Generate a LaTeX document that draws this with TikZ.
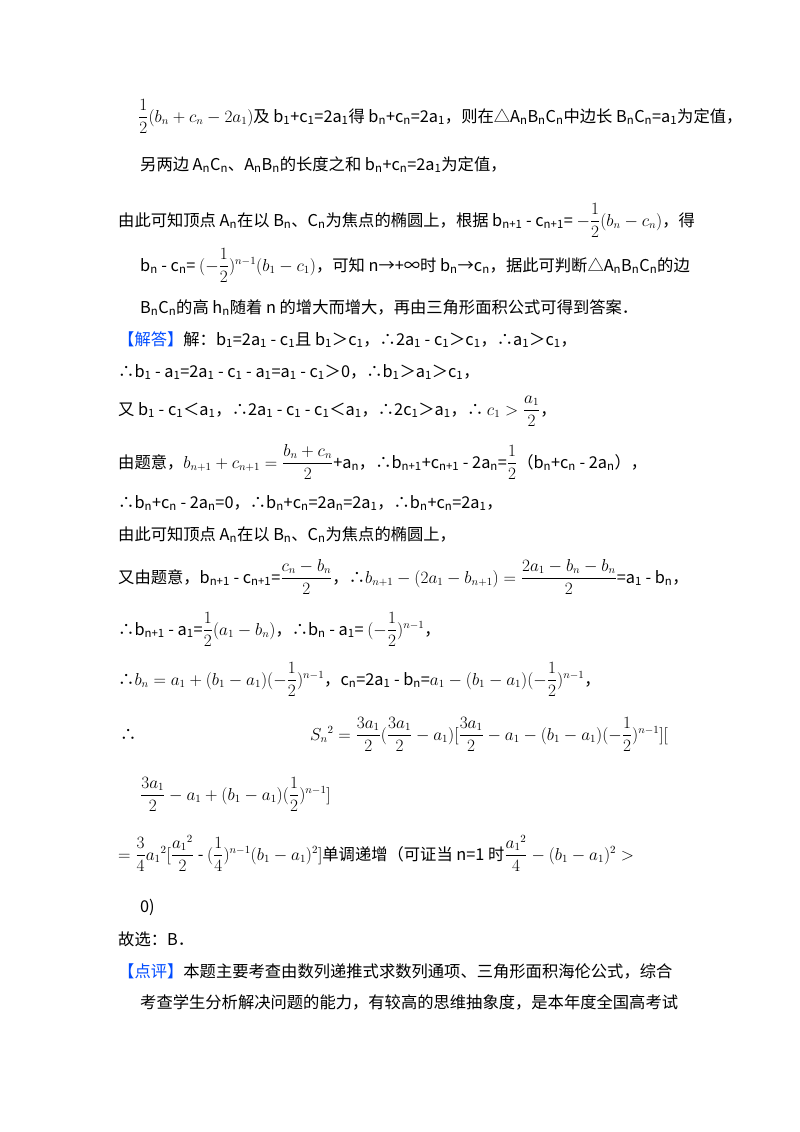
\documentclass[tikz,border=0pt]{standalone}
\usepackage{amsmath}
\usepackage{fontspec}
\setmainfont{Noto Sans CJK SC}
\newcommand{\sbs}[1]{\textsubscript{#1}}
\begin{document}
\begin{tikzpicture}[x=1pt,y=-1pt,
  ln/.style={anchor=base west,inner sep=0pt,font=\fontsize{16.3}{19}\selectfont}]
\useasboundingbox[fill=white] (0,0) rectangle (800,1132);
\node[ln] (l1) at (138,122) {$\dfrac{1}{2}(b_n+c_n-2a_1)$及 b\sbs{1}+c\sbs{1}=2a\sbs{1}得 b\sbs{n}+c\sbs{n}=2a\sbs{1}，则在△A\sbs{n}B\sbs{n}C\sbs{n}中边长 B\sbs{n}C\sbs{n}=a\sbs{1}为定值，};
\node[ln] (l2) at (140,170) {另两边 A\sbs{n}C\sbs{n}、A\sbs{n}B\sbs{n}的长度之和 b\sbs{n}+c\sbs{n}=2a\sbs{1}为定值，};
\node[ln] (l3) at (118,226) {由此可知顶点 A\sbs{n}在以 B\sbs{n}、C\sbs{n}为焦点的椭圆上，根据 b\sbs{n+1} - c\sbs{n+1}= $-\dfrac{1}{2}(b_n-c_n)$，得};
\node[ln] (l4) at (140,271) {b\sbs{n} - c\sbs{n}= $(-\dfrac{1}{2})^{n-1}(b_1-c_1)$，可知 n→+∞时 b\sbs{n}→c\sbs{n}，据此可判断△A\sbs{n}B\sbs{n}C\sbs{n}的边};
\node[ln] (l5) at (140,313) {B\sbs{n}C\sbs{n}的高 h\sbs{n}随着 n 的增大而增大，再由三角形面积公式可得到答案．};
\node[ln] (l6) at (118,345) {\textcolor{blue!70!cyan}{【解答】}解：b\sbs{1}=2a\sbs{1} - c\sbs{1}且 b\sbs{1}＞c\sbs{1}，∴2a\sbs{1} - c\sbs{1}＞c\sbs{1}，∴a\sbs{1}＞c\sbs{1}，};
\node[ln] (l7) at (118,377) {∴b\sbs{1} - a\sbs{1}=2a\sbs{1} - c\sbs{1} - a\sbs{1}=a\sbs{1} - c\sbs{1}＞0，∴b\sbs{1}＞a\sbs{1}＞c\sbs{1}，};
\node[ln] (l8) at (118,415) {又 b\sbs{1} - c\sbs{1}＜a\sbs{1}，∴2a\sbs{1} - c\sbs{1} - c\sbs{1}＜a\sbs{1}，∴2c\sbs{1}＞a\sbs{1}，∴ $c_1>\dfrac{a_1}{2}$，};
\node[ln] (l9) at (118,468) {由题意，$b_{n+1}+c_{n+1}=\dfrac{b_n+c_n}{2}$+a\sbs{n}，∴b\sbs{n+1}+c\sbs{n+1} - 2a\sbs{n}=$\dfrac{1}{2}$（b\sbs{n}+c\sbs{n} - 2a\sbs{n}），};
\node[ln] (l10) at (118,508) {∴b\sbs{n}+c\sbs{n} - 2a\sbs{n}=0，∴b\sbs{n}+c\sbs{n}=2a\sbs{n}=2a\sbs{1}，∴b\sbs{n}+c\sbs{n}=2a\sbs{1}，};
\node[ln] (l11) at (118,540) {由此可知顶点 A\sbs{n}在以 B\sbs{n}、C\sbs{n}为焦点的椭圆上，};
\node[ln] (l12) at (118,583) {又由题意，b\sbs{n+1} - c\sbs{n+1}=$\dfrac{c_n-b_n}{2}$，∴$b_{n+1}-(2a_1-b_{n+1})=\dfrac{2a_1-b_n-b_n}{2}$=a\sbs{1} - b\sbs{n}，};
\node[ln] (l13) at (118,635) {∴b\sbs{n+1} - a\sbs{1}=$\dfrac{1}{2}(a_1-b_n)$，∴b\sbs{n} - a\sbs{1}= $(-\dfrac{1}{2})^{n-1}$，};
\node[ln] (l14) at (118,685) {∴$b_n=a_1+(b_1-a_1)(-\dfrac{1}{2})^{n-1}$，c\sbs{n}=2a\sbs{1} - b\sbs{n}=$a_1-(b_1-a_1)(-\dfrac{1}{2})^{n-1}$，};
\node[ln] (l15a) at (120,740) {∴};
\node[ln] (l15) at (310,740) {$S_n{}^2=\dfrac{3a_1}{2}(\dfrac{3a_1}{2}-a_1)[\dfrac{3a_1}{2}-a_1-(b_1-a_1)(-\dfrac{1}{2})^{n-1}][$};
\node[ln] (l16) at (140,800) {$\dfrac{3a_1}{2}-a_1+(b_1-a_1)(\dfrac{1}{2})^{n-1}]$};
\node[ln] (l17) at (118,860) {$=\dfrac{3}{4}a_1{}^2[\dfrac{a_1{}^2}{2}$ - $(\dfrac{1}{4})^{n-1}(b_1-a_1)^2]$单调递增（可证当 n=1 时$\dfrac{a_1{}^2}{4}-(b_1-a_1)^2>$};
\node[ln] (l18) at (140,912) {0)};
\node[ln] (l19) at (118,945) {故选：B．};
\node[ln] (l20) at (118,977) {\textcolor{blue!70!cyan}{【点评】}本题主要考查由数列递推式求数列通项、三角形面积海伦公式，综合};
\node[ln] (l21) at (140,1008) {考查学生分析解决问题的能力，有较高的思维抽象度，是本年度全国高考试};
\end{tikzpicture}
\end{document}
